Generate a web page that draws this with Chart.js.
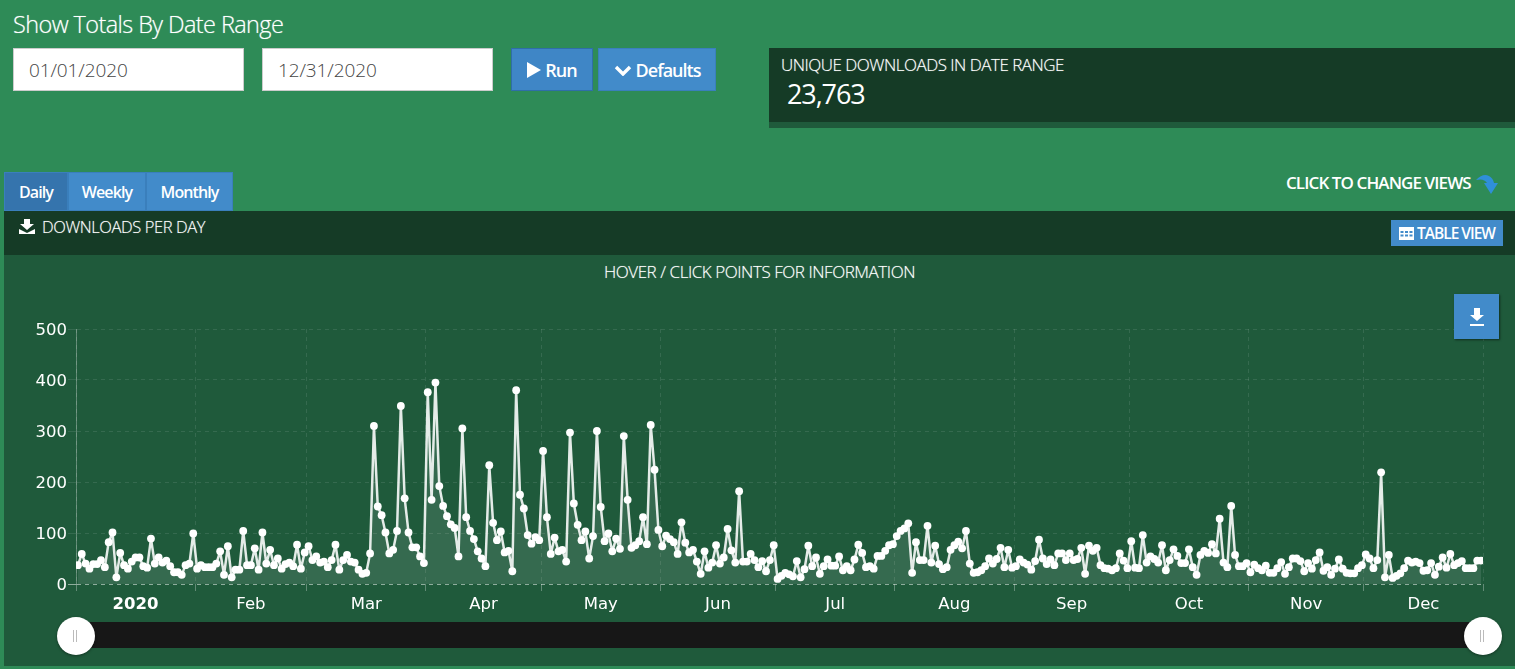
<!DOCTYPE html>
<html>
<head>
<meta charset="utf-8">
<title>Downloads per day</title>
<script src="https://cdn.jsdelivr.net/npm/chart.js@4"></script>
<style>
  html, body { margin: 0; padding: 0; }
  body { width: 1515px; height: 669px; overflow: hidden; position: relative; background: #2e8b57; font-family: "Open Sans", sans-serif; color: #fff; }
  .box { position: absolute; box-sizing: border-box; }
  .txt { position: absolute; white-space: nowrap; }
  .light { font-weight: 300; text-shadow: 0 0 1px rgba(255,255,255,.55); }
  .date { background: #fff; border: 1px solid #ccc; color: #444; font-size: 19px; font-weight: 300; line-height: 42px; padding-left: 15px; letter-spacing: -.1px; }
  .btn { background: #428bca; border: 1px solid #3a7fbc; display: flex; align-items: center; justify-content: center; font-weight: 400; }
  .tab { font-size: 16px; font-weight: 600; letter-spacing: -.9px; }
  .handle { position: absolute; width: 38px; height: 38px; top: 617px; border-radius: 50%; background: #fff; box-shadow: 0 1px 3px rgba(0,0,0,.4); }
  .handle::after { content: ""; position: absolute; left: 16px; top: 13px; width: 2px; height: 12px; border-left: 1px solid #bbb; border-right: 1px solid #bbb; }
  #chartWrap { position: absolute; left: 0; top: 310px; width: 1515px; height: 310px; }
</style>
</head>
<body>

<div class="txt light" style="left:13px;top:8px;font-size:23.5px;letter-spacing:-.6px">Show Totals By Date Range</div>
<div class="box date" style="left:13px;top:48px;width:231px;height:43px">01/01/2020</div>
<div class="box date" style="left:262px;top:48px;width:231px;height:43px">12/31/2020</div>
<div class="box btn" style="left:511px;top:48px;width:82px;height:43px;font-size:18px;font-weight:600;letter-spacing:-1px;background:#3f86c6;border-color:#2f6ea8">
  <svg width="14" height="16" style="margin-right:4px"><path d="M0 0L14 8L0 16Z" fill="#fff"/></svg>Run
</div>
<div class="box btn" style="left:598px;top:48px;width:118px;height:43px;font-size:18px;font-weight:600;letter-spacing:-1px">
  <svg width="18" height="12" style="margin-right:4px"><path d="M2 3L9 10L16 3" fill="none" stroke="#fff" stroke-width="3.4"/></svg>Defaults
</div>

<div class="box" style="left:769px;top:48px;width:746px;height:80px;background:#1f5a3b"></div>
<div class="box" style="left:769px;top:48px;width:746px;height:74px;background:#153b26"></div>
<div class="txt light" style="left:781px;top:53px;font-size:17px;letter-spacing:-.5px">UNIQUE DOWNLOADS IN DATE RANGE</div>
<div class="txt" style="left:787px;top:75px;font-size:27px;letter-spacing:-1.1px">23,763</div>

<div class="box" style="left:4px;top:172px;width:228px;height:39px;background:#428bca"></div>
<div class="box btn tab" style="left:4px;top:172px;width:64px;height:39px;background:#3574ad;border-color:#3a7fbc">Daily</div>
<div class="box btn tab" style="left:68px;top:172px;width:78px;height:39px">Weekly</div>
<div class="box btn tab" style="left:146px;top:172px;width:87px;height:39px">Monthly</div>

<div class="txt" style="left:1286px;top:171px;font-size:17px;font-weight:600;letter-spacing:-.9px">CLICK TO CHANGE VIEWS</div>
<svg style="position:absolute;left:1475px;top:174px" width="24" height="20"><path d="M1 6Q8 -1 14 2Q18 4 19 9L23 9L16 20L9 9L12 9Q9 4 1 6Z" fill="#2f8fd8"/></svg>

<div class="box" style="left:4px;top:211px;width:1511px;height:44px;background:#153b26"></div>
<svg style="position:absolute;left:19px;top:219px" width="16" height="15"><path d="M5 0H11V5H15L8 11L1 5H5ZM0 10L8 14L16 10V15H0Z" fill="#fff"/></svg>
<div class="txt light" style="left:42px;top:215px;font-size:16.5px;letter-spacing:-.4px">DOWNLOADS PER DAY</div>
<div class="box btn" style="left:1391px;top:220px;width:112px;height:26px;font-size:15.5px;font-weight:600;letter-spacing:-1px;border:0">
  <svg width="15" height="13" style="margin-right:3px"><path d="M0 0H15V13H0ZM1.5 4V6H4.5V4ZM6 4V6H9V4ZM10.5 4V6H13.5V4ZM1.5 7.5V9.5H4.5V7.5ZM6 7.5V9.5H9V7.5ZM10.5 7.5V9.5H13.5V7.5Z" fill="#fff" fill-rule="evenodd"/></svg>TABLE VIEW
</div>

<div class="box" style="left:4px;top:255px;width:1511px;height:411px;background:#1f5a3b"></div>
<div class="txt light" style="left:604px;top:260px;font-size:17px;letter-spacing:-.45px">HOVER / CLICK POINTS FOR INFORMATION</div>

<div id="chartWrap"><canvas id="downloadsChart"></canvas></div>

<div class="box btn" style="left:1454px;top:294px;width:45px;height:45px;border:0;box-shadow:1px 1px 2px rgba(0,0,0,.5)">
  <svg width="16" height="18"><path d="M5 0H11V7H15L8 13L1 7H5ZM1 16H15V18H1Z" fill="#fff"/></svg>
</div>

<div class="box" style="left:76px;top:622px;width:1407px;height:26px;background:#171717"></div>
<div class="handle" style="left:57px"></div>
<div class="handle" style="left:1464px"></div>

<script>
  // 월별 일일 다운로드 수 (2020)
  var janValues = [37, 59, 40, 30, 39, 39, 47, 33, 82, 101, 13, 61, 37, 30, 44, 52, 52, 35, 32, 89, 40, 52, 42, 46, 35, 23, 23, 18, 37, 40, 99];
  var febValues = [30, 37, 33, 33, 33, 40, 64, 18, 74, 13, 28, 28, 104, 37, 37, 70, 28, 101, 40, 67, 37, 50, 30, 39, 42, 35, 77, 30, 62];
  var marValues = [74, 47, 54, 42, 44, 33, 47, 77, 28, 47, 57, 44, 42, 28, 20, 22, 60, 310, 152, 135, 101, 60, 67, 104, 349, 168, 101, 72, 72, 54, 41];
  var aprValues = [376, 165, 395, 192, 153, 133, 117, 110, 54, 305, 131, 104, 88, 64, 50, 35, 233, 120, 86, 103, 62, 65, 25, 380, 175, 148, 96, 79, 92, 86];
  var mayValues = [261, 131, 59, 91, 64, 67, 44, 297, 158, 116, 86, 103, 50, 94, 300, 151, 84, 99, 64, 89, 69, 290, 165, 71, 76, 84, 131, 78, 312, 224, 106];
  var junValues = [74, 95, 88, 82, 59, 121, 81, 62, 67, 44, 20, 64, 32, 42, 76, 40, 52, 108, 66, 42, 182, 44, 44, 59, 47, 33, 45, 25, 47, 76];
  var julValues = [10, 16, 22, 19, 15, 45, 13, 29, 75, 35, 52, 20, 35, 48, 36, 36, 54, 27, 35, 27, 48, 77, 61, 33, 35, 30, 55, 55, 65, 76, 78];
  var augValues = [94, 104, 109, 119, 22, 82, 47, 47, 114, 42, 75, 39, 29, 33, 67, 76, 83, 70, 104, 40, 22, 23, 27, 35, 50, 40, 49, 71, 33, 67, 32];
  var sepValues = [35, 48, 42, 38, 28, 45, 87, 50, 39, 48, 37, 60, 60, 47, 60, 47, 49, 71, 20, 75, 65, 71, 37, 31, 30, 27, 31, 60, 46, 31];
  var octValues = [84, 32, 31, 96, 42, 54, 49, 42, 76, 27, 47, 68, 55, 41, 41, 68, 33, 18, 57, 65, 61, 78, 60, 128, 42, 33, 153, 57, 35, 35, 41];
  var novValues = [23, 38, 31, 27, 36, 22, 22, 31, 43, 20, 33, 50, 50, 45, 25, 41, 30, 47, 62, 26, 33, 18, 30, 48, 30, 22, 21, 21, 31, 37];
  var decValues = [58, 50, 31, 47, 219, 13, 57, 12, 16, 21, 31, 46, 42, 44, 41, 26, 27, 41, 18, 34, 52, 32, 59, 37, 41, 45, 31, 31, 31, 46, 46];

  var monthLabels = ['2020', 'Feb', 'Mar', 'Apr', 'May', 'Jun', 'Jul', 'Aug', 'Sep', 'Oct', 'Nov', 'Dec'];
  var monthStarts = [0, 31, 60, 91, 121, 152, 182, 213, 244, 274, 305, 335, 366];
  var yTicks = [0, 100, 200, 300, 400, 500];

  var allValues = [].concat(janValues, febValues, marValues, aprValues, mayValues, junValues,
    julValues, augValues, sepValues, octValues, novValues, decValues);

  // 점은 하루 칸의 가운데에 찍음
  var points = allValues.map(function(v, i) {
    return { x: i + 0.5, y: v };
  });

  // 월 시작 = 격자선, 월 가운데 = 라벨
  var labelAt = {};
  for (var m = 0; m < monthLabels.length; m++) {
    labelAt[(monthStarts[m] + monthStarts[m + 1]) / 2] = monthLabels[m];
  }

  function isMonthStart(value) {
    return monthStarts.indexOf(value) !== -1;
  }

  var gridColor = 'rgba(255, 255, 255, 0.1)';
  var labelFont = { family: '"DejaVu Sans", sans-serif', size: 16.5 };

  var ctx = document.getElementById('downloadsChart').getContext('2d');
  var downloadsChart = new Chart(ctx, {
    type: 'line',
    data: {
      datasets: [{
        label: 'Downloads',
        data: points,
        borderColor: 'rgba(255, 255, 255, 0.88)',
        borderWidth: 2.5,
        borderJoinStyle: 'round',
        backgroundColor: 'rgba(255, 255, 255, 0.1)',
        fill: 'origin',
        tension: 0,
        pointRadius: 3.9,
        pointBackgroundColor: '#fff',
        pointBorderColor: '#fff',
        pointBorderWidth: 0
      }]
    },
    options: {
      responsive: true,
      maintainAspectRatio: false,
      animation: false,
      layout: { padding: { top: 19, right: 32, left: 0, bottom: 0 } },
      plugins: { legend: { display: false }, tooltip: { enabled: true } },
      scales: {
        x: {
          type: 'linear',
          min: 0,
          max: 366,
          afterFit: function(scale) { scale.height = 36; },
          afterBuildTicks: function(scale) {
            var starts = monthStarts.map(function(v) { return { value: v }; });
            var mids = Object.keys(labelAt).map(function(k) { return { value: Number(k) }; });
            scale.ticks = starts.concat(mids).sort(function(a, b) { return a.value - b.value; });
          },
          ticks: {
            autoSkip: false,
            maxRotation: 0,
            padding: 4,
            color: '#fff',
            font: function(c) {
              var bold = c.tick && c.tick.value === 15.5;
              return { family: labelFont.family, size: labelFont.size, weight: bold ? 'bold' : 'normal' };
            },
            callback: function(value) {
              return isMonthStart(value) ? '' : labelAt[value];
            }
          },
          grid: {
            drawTicks: true,
            tickLength: 7,
            color: function(c) {
              return c.tick && isMonthStart(c.tick.value) ? gridColor : 'transparent';
            },
            tickColor: function(c) {
              return c.tick && isMonthStart(c.tick.value) ? 'rgba(255, 255, 255, 0.3)' : 'transparent';
            }
          },
          border: { display: false, dash: [4, 4] }
        },
        y: {
          min: 0,
          max: 500,
          afterFit: function(scale) { scale.width = 76; },
          afterBuildTicks: function(scale) {
            scale.ticks = yTicks.map(function(v) { return { value: v }; });
          },
          ticks: {
            padding: 1,
            color: '#fff',
            // 라벨을 2px 아래로 내리려고 빈 줄 + 작은 lineHeight 사용
            font: { family: labelFont.family, size: labelFont.size, lineHeight: 0.24 },
            callback: function(value) {
              return ['', String(value)];
            }
          },
          grid: {
            tickLength: 8,
            color: function(c) {
              return c.tick && c.tick.value === 0 ? 'rgba(255, 255, 255, 0.5)' : gridColor;
            }
          },
          border: { display: true, color: 'rgba(255, 255, 255, 0.3)', dash: [4, 4] }
        }
      }
    }
  });
</script>
</body>
</html>
